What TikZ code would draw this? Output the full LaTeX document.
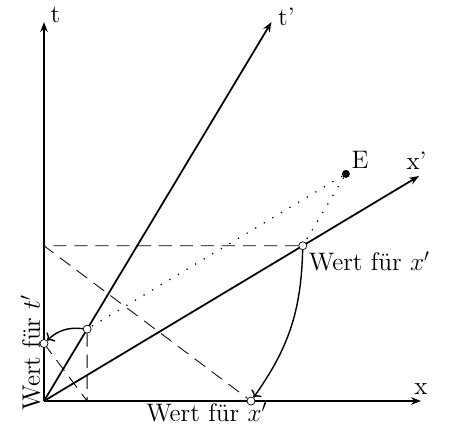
\documentclass[tikz,border=0pt]{standalone}
\usetikzlibrary{arrows.meta}

\tikzset{
  every node/.append style={font=\Large},
  punkt/.style={circle, draw, fill=white, inner sep=0pt, minimum size=1.6mm},
  ereignis/.style={circle, fill=black, inner sep=0pt, minimum size=1.6mm},
  achse/.style={line width=1pt, -{Stealth[length=2mm]}},
  hilfslinie/.style={line width=0.5pt, dash pattern=on 7.5pt off 4.5pt},
  projektion/.style={line width=0.7pt, dash pattern=on 0.7pt off 5pt},
  umklappen/.style={line width=0.8pt, ->},
}

\begin{document}
\begin{tikzpicture}
        \useasboundingbox (-0.88,-0.54) rectangle (8.16,8.02);

        % Achsen
        \coordinate (O) at (0,0);
        \draw[achse] (O) -- (7.54,0) coordinate (xEnde) node[above] {x};
        \draw[achse] (O) -- (0,7.58) coordinate (tEnde) node[right, yshift=1.5mm] {t};
        \draw[achse] (O) -- (4.55,7.58) coordinate (tsEnde) node[right, yshift=1mm] {t'};
        \draw[achse] (O) -- (7.5,4.5) coordinate (xsEnde) node[above, xshift=-0.5mm] {x'};

        % Punkte
        \node[punkt] (P) at (5.175,3.105) {};
        \node[punkt] (Q) at (0.8625,1.4375) {};
        \node[punkt] (A) at (4.14,0) {};
        \node[punkt] (B) at (0,1.15) {};
        \node[ereignis] (E) at (6.0375,4.5425) {};
        \node[above right, inner sep=3pt] (Ename) at (E.center) {E};

        % Hilfslinien
        \coordinate (tP) at (0,3.105);
        \coordinate (xQ) at (0.8625,0);
        \draw[hilfslinie] (P) -- (tP) -- (A);
        \draw[hilfslinie] (Q) -- (xQ) -- (B);

        % Projektion von E
        \draw[projektion] (E) -- (P);
        \draw[projektion] (E) -- (Q);

        % umklappen
        \draw[umklappen] (P) to[bend left=17] (A);
        \draw[umklappen] (Q) to[bend right=25] (B);

        \node[anchor=north west] (wertP) at (P.center) {Wert für $x'$};
        \node[anchor=north east] (wertA) at (4.59,0.09) {Wert für $x'$};
        \node[rotate=90, anchor=south west] (wertB) at (0.05,-0.31) {Wert für $t'$};

    \end{tikzpicture}
\end{document}
